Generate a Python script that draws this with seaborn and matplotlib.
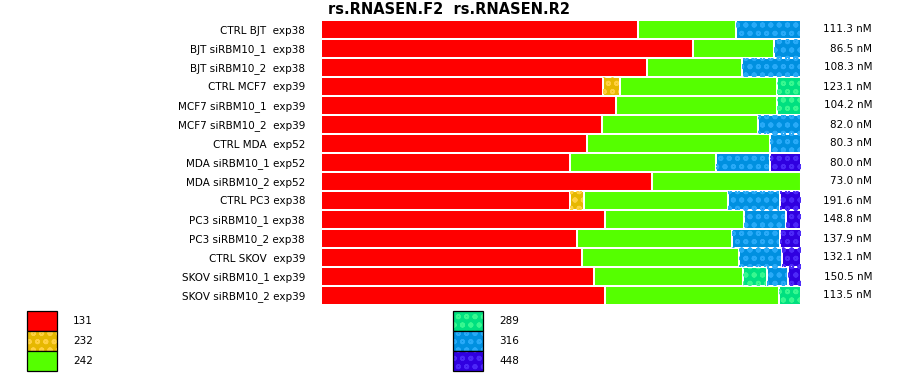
import pandas as pd
import matplotlib.pyplot as plt
import matplotlib.patches as mpatches
import seaborn as sns

samples = ["CTRL BJT  exp38", "BJT siRBM10_1  exp38", "BJT siRBM10_2  exp38",
           "CTRL MCF7  exp39", "MCF7 siRBM10_1  exp39", "MCF7 siRBM10_2  exp39",
           "CTRL MDA  exp52", "MDA siRBM10_1 exp52", "MDA siRBM10_2 exp52",
           "CTRL PC3 exp38", "PC3 siRBM10_1 exp38", "PC3 siRBM10_2 exp38",
           "CTRL SKOV  exp39", "SKOV siRBM10_1 exp39", "SKOV siRBM10_2 exp39"]
concentration = [111.3, 86.5, 108.3, 123.1, 104.2, 82.0, 80.3, 80.0, 73.0,
                 191.6, 148.8, 137.9, 132.1, 150.5, 113.5]

# percent of each product size per sample
size_131 = [66.0, 77.4, 67.9, 58.7, 61.5, 58.5, 55.4, 51.9, 69.0, 51.9, 59.2, 53.3, 54.4, 56.9, 59.2]
size_232 = [0, 0, 0, 3.5, 0, 0, 0, 0, 0, 2.9, 0, 0, 0, 0, 0]
size_242 = [20.4, 16.9, 19.8, 32.9, 33.5, 32.5, 38.1, 30.4, 31.0, 30.0, 29.0, 32.3, 32.7, 31.0, 36.3]
size_289 = [0, 0, 0, 4.9, 5.0, 0, 0, 0, 0, 0, 0, 0, 0, 5.0, 4.5]
size_316 = [13.6, 5.7, 12.3, 0, 0, 9.0, 6.5, 11.2, 0, 10.8, 8.6, 10.1, 8.9, 4.3, 0]
size_448 = [0, 0, 0, 0, 0, 0, 0, 6.5, 0, 4.4, 3.2, 4.3, 4.0, 2.8, 0]

sizes = ["131", "232", "242", "289", "316", "448"]
colors = ["#ff0000", "#e6b800", "#55ff00", "#00e080", "#0090e0", "#3000e0"]
dot_colors = [None, "#ffd040", None, "#38f890", "#28aaf8", "#4c28f8"]

df = pd.DataFrame({"sample": samples, "131": size_131, "232": size_232,
                   "242": size_242, "289": size_289, "316": size_316,
                   "448": size_448})

plt.rcParams["font.family"] = ["DejaVu Sans"]
plt.rcParams["hatch.linewidth"] = 1.3

fig = plt.figure(figsize=(9, 3.75), dpi=100)
ax = fig.add_axes([321 / 900, 70 / 375, 480 / 900, 285 / 375])

left = [0.0] * len(samples)
for size, col, dot in zip(sizes, colors, dot_colors):
    sns.barplot(data=df, x=size, y="sample", left=left, color=col, saturation=1,
                width=1.0, edgecolor="white", linewidth=1.45, orient="h", ax=ax,
                errorbar=None)
    if dot is not None:
        sns.barplot(data=df, x=size, y="sample", left=left, color=dot, saturation=1,
                    fill=False, width=1.0, linewidth=0, hatch="oo", orient="h",
                    ax=ax, errorbar=None)
    left = [a + b for a, b in zip(left, df[size])]

ax.set_xlim(0, 100)
ax.set_ylim(len(samples) - 0.5, -0.5)
ax.set_xlabel("")
ax.set_ylabel("")
ax.set_xticks([])
ax.tick_params(axis="y", length=0, pad=11.5, labelsize=7.5)
for s in ax.spines.values():
    s.set_visible(False)

for i, c in enumerate(concentration):
    ax.text(1.148, i, f"{c:.1f} nM", transform=ax.get_yaxis_transform(),
            ha="right", va="center", fontsize=7.5)

ax.set_title("rs.RNASEN.F2  rs.RNASEN.R2", loc="left", x=7 / 480, pad=4,
             fontsize=10.5, fontweight="bold")

def make_handle(col, dot):
    base = mpatches.Patch(facecolor=col, edgecolor=dot if dot else col,
                          hatch="oo" if dot else None, linewidth=0)
    frame = mpatches.Patch(fill=False, edgecolor="black", linewidth=0.9)
    return (base, frame)

handles = [make_handle(c, d) for c, d in zip(colors, dot_colors)]
fs = 7.5 * 100 / 72
hh = (20 / fs - 0.245) / 0.65
leg_kw = dict(loc="upper left", frameon=False, borderpad=0, borderaxespad=0,
              labelspacing=0, handlelength=30 / fs, handleheight=hh,
              handletextpad=16 / fs, fontsize=7.5)
fig.legend(handles[:3], sizes[:3], bbox_to_anchor=(27 / 900, 1 - 311 / 375), **leg_kw)
fig.legend(handles[3:], sizes[3:], bbox_to_anchor=(453 / 900, 1 - 311 / 375), **leg_kw)

fig.savefig("out.png", dpi=100)
